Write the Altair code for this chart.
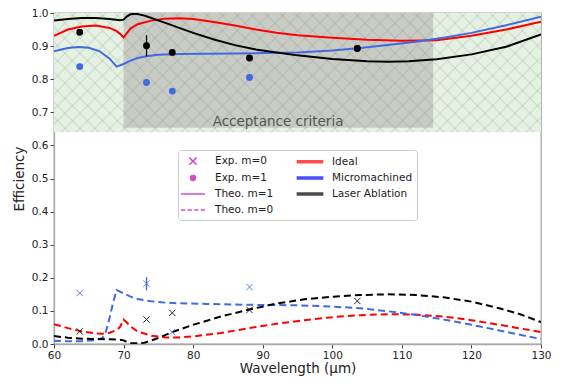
import altair as alt
import pandas as pd
import numpy as np

# ---------------- data ----------------
# Theoretical first order (m=1), solid lines
ideal_m1_x = [60, 62, 64, 66, 68, 69, 69.5, 70, 70.5, 71, 72, 74, 76, 78, 80, 83, 86, 89, 92, 95, 100, 105, 110, 115, 120, 125, 130]
ideal_m1_y = [0.931, 0.950, 0.959, 0.962, 0.955, 0.945, 0.937, 0.926, 0.940, 0.953, 0.966, 0.977, 0.983, 0.984, 0.982, 0.973, 0.962, 0.950, 0.940, 0.933, 0.925, 0.919, 0.916, 0.918, 0.931, 0.950, 0.974]

micro_m1_x = [60, 62, 63.5, 65, 66.5, 68, 69, 70, 71, 72, 73.5, 75, 78, 82, 86, 90, 95, 100, 104, 108, 112, 116, 120, 125, 130]
micro_m1_y = [0.884, 0.894, 0.897, 0.895, 0.885, 0.862, 0.838, 0.846, 0.856, 0.864, 0.870, 0.874, 0.876, 0.877, 0.878, 0.879, 0.881, 0.887, 0.894, 0.903, 0.913, 0.925, 0.940, 0.963, 0.989]

laser_m1_x = [60, 62, 64, 66, 68, 69.5, 70, 70.5, 71, 71.5, 72, 73, 74, 76, 78, 80, 83, 86, 89, 92, 95, 100, 105, 108, 111, 115, 120, 125, 130]
laser_m1_y = [0.977, 0.982, 0.985, 0.985, 0.982, 0.978, 0.980, 0.990, 0.996, 0.998, 0.997, 0.992, 0.985, 0.970, 0.955, 0.940, 0.920, 0.903, 0.890, 0.881, 0.872, 0.861, 0.854, 0.853, 0.854, 0.860, 0.875, 0.898, 0.935]

# Theoretical zeroth order (m=0), dashed lines
ideal_m0_x = [60, 62, 64, 66, 67, 68, 69, 69.5, 70, 70.5, 71, 72, 74, 76, 78, 80, 84, 88, 92, 96, 100, 104, 108, 112, 116, 120, 124, 127, 130]
ideal_m0_y = [0.060, 0.048, 0.038, 0.032, 0.031, 0.034, 0.042, 0.052, 0.074, 0.064, 0.053, 0.038, 0.025, 0.020, 0.020, 0.023, 0.033, 0.048, 0.061, 0.072, 0.081, 0.087, 0.090, 0.089, 0.083, 0.072, 0.058, 0.047, 0.036]

micro_m0_x = [60, 62, 64, 66, 67, 67.5, 68, 68.5, 69, 70, 71, 72, 74, 76, 78, 82, 86, 90, 95, 100, 104, 108, 112, 116, 120, 124, 127, 130]
micro_m0_y = [0.010, 0.008, 0.008, 0.012, 0.018, 0.040, 0.080, 0.125, 0.163, 0.153, 0.143, 0.136, 0.129, 0.125, 0.123, 0.121, 0.119, 0.118, 0.117, 0.113, 0.108, 0.099, 0.088, 0.074, 0.058, 0.041, 0.028, 0.015]

laser_m0_x = [60, 62, 64, 66, 68, 69.5, 70, 70.5, 71, 72, 73, 75, 77, 80, 84, 88, 92, 96, 100, 104, 108, 112, 116, 120, 124, 127, 130]
laser_m0_y = [0.024, 0.019, 0.016, 0.015, 0.014, 0.013, 0.011, 0.006, 0.003, 0.002, 0.004, 0.018, 0.036, 0.058, 0.083, 0.104, 0.122, 0.135, 0.143, 0.148, 0.150, 0.148, 0.141, 0.128, 0.108, 0.090, 0.066]

# Experimental points
exp_m1_micro_x = [63.7, 73.3, 77.0, 88.1, 103.6]
exp_m1_micro_y = [0.838, 0.790, 0.764, 0.805, 0.893]
exp_m1_micro_err = [0, 0.011, 0, 0, 0]
exp_m1_laser_x = [63.7, 73.3, 77.0, 88.1, 103.6]
exp_m1_laser_y = [0.942, 0.901, 0.881, 0.864, 0.893]
exp_m1_laser_err = [0, 0.032, 0, 0, 0]

exp_m0_micro_x = [63.7, 73.3, 77.0, 88.1]
exp_m0_micro_y = [0.154, 0.182, 0.036, 0.172]
exp_m0_micro_err = [0, 0.020, 0, 0]
exp_m0_laser_x = [63.7, 73.3, 77.0, 88.1, 103.6]
exp_m0_laser_y = [0.038, 0.074, 0.094, 0.103, 0.130]
exp_m0_laser_err = [0, 0, 0, 0, 0]

# Acceptance region
accept_x = [60, 130]
accept_y = [0.64, 1.0]
criteria_x = [70, 114.5]
criteria_y = [0.653, 1.0]
criteria_label = "Acceptance criteria"
criteria_label_pos = [92.2, 0.672]

devices = ["Ideal", "Micromachined", "Laser Ablation"]
device_colors = ["#ff0000", "#4169e1", "#000000"]

legend_labels = ["Exp. m=0", "Exp. m=1", "Theo. m=1", "Theo. m=0", "Ideal", "Micromachined", "Laser Ablation"]
legend_colors = ["#bf00bf", "#bf00bf", "#bf00bf", "#bf00bf", "#ff0000", "#0000ff", "#000000"]

X_TICKS = [60, 70, 80, 90, 100, 110, 120, 130]
Y_TICKS = [0.0, 0.1, 0.2, 0.3, 0.4, 0.5, 0.6, 0.7, 0.8, 0.9, 1.0]

# ---------------- geometry / style ----------------
W, H = 487, 331
FONT = "DejaVu Sans"
X_PATH = "M-1,-1L1,1M-1,1L1,-1"
LEG_X = "M-0.6,-0.6L0.6,0.6M-0.6,0.6L0.6,-0.6"
LEG_DOT = "M0.4,0A0.4,0.4,0,1,1,-0.4,0A0.4,0.4,0,1,1,0.4,0Z"
LEG_LINE = "M-2,0L2,0"
LEG_DASH = "M-2,0L-1.3,0M-0.9,0L-0.2,0M0.2,0L0.9,0M1.3,0L2,0"
LEG_THICK = "M-2.1,-0.17L2.1,-0.17L2.1,0.17L-2.1,0.17Z"
legend_shapes = [LEG_X, LEG_DOT, LEG_LINE, LEG_DASH, LEG_THICK, LEG_THICK, LEG_THICK]

# ---------------- tables ----------------
def curve(xs, ys, dev, order):
    return pd.DataFrame({"x": xs, "y": ys, "device": dev, "order": order})

lines = pd.concat([
    curve(ideal_m1_x, ideal_m1_y, "Ideal", "m1"),
    curve(micro_m1_x, micro_m1_y, "Micromachined", "m1"),
    curve(laser_m1_x, laser_m1_y, "Laser Ablation", "m1"),
    curve(ideal_m0_x, ideal_m0_y, "Ideal", "m0"),
    curve(micro_m0_x, micro_m0_y, "Micromachined", "m0"),
    curve(laser_m0_x, laser_m0_y, "Laser Ablation", "m0"),
], ignore_index=True)

def pts(xs, ys, errs, dev, order):
    ys = np.array(ys); errs = np.array(errs)
    return pd.DataFrame({"x": xs, "y": ys, "lo": ys - errs, "hi": ys + errs,
                         "err": errs, "device": dev, "order": order})

points = pd.concat([
    pts(exp_m1_micro_x, exp_m1_micro_y, exp_m1_micro_err, "Micromachined", "m1"),
    pts(exp_m1_laser_x, exp_m1_laser_y, exp_m1_laser_err, "Laser Ablation", "m1"),
    pts(exp_m0_micro_x, exp_m0_micro_y, exp_m0_micro_err, "Micromachined", "m0"),
    pts(exp_m0_laser_x, exp_m0_laser_y, exp_m0_laser_err, "Laser Ablation", "m0"),
], ignore_index=True)

regions = pd.DataFrame({
    "x": [accept_x[0], criteria_x[0]], "x2": [accept_x[1], criteria_x[1]],
    "y": [accept_y[0], criteria_y[0]], "y2": [accept_y[1], criteria_y[1]],
    "fill": ["#e5f2e3", "#c8ccc5"],
})

# hatch lines (decoration) over the acceptance region
xpp = (X_TICKS[-1] - X_TICKS[0]) / W
ypp = 1.0 / H
wpx = (accept_x[1] - accept_x[0]) / xpp
hpx = (accept_y[1] - accept_y[0]) / ypp
segs = []
for c in np.arange(-wpx, hpx, 15.0):
    xa, xb = max(0.0, -c), min(wpx, hpx - c)
    if xb > xa:
        segs.append((xa, xa + c, xb, xb + c))
for c in np.arange(0.0, wpx + hpx, 15.0):
    xa, xb = max(0.0, c - hpx), min(wpx, c)
    if xb > xa:
        segs.append((xa, c - xa, xb, c - xb))
hatch = pd.DataFrame([{
    "x": accept_x[0] + a * xpp, "y": accept_y[0] + b * ypp,
    "x2": accept_x[0] + c * xpp, "y2": accept_y[0] + d * ypp} for a, b, c, d in segs])

label_df = pd.DataFrame({"x": [criteria_label_pos[0]], "y": [criteria_label_pos[1]], "t": [criteria_label]})
legend_df = pd.DataFrame({"label": legend_labels})

# ---------------- encodings ----------------
xs = alt.Scale(domain=[X_TICKS[0], X_TICKS[-1]], nice=False, zero=False)
ys = alt.Scale(domain=[0, 1], nice=False)
X = alt.X("x:Q", scale=xs, title="Wavelength (µm)",
          axis=alt.Axis(values=X_TICKS, format="d", labelFlush=False, labelOverlap=False, titlePadding=1))
Y = alt.Y("y:Q", scale=ys, title="Efficiency",
          axis=alt.Axis(values=Y_TICKS, format=".1f", labelFlush=False, labelOverlap=False, titlePadding=5))
COL = alt.Color("device:N", scale=alt.Scale(domain=devices, range=device_colors), legend=None)

bg = alt.Chart(regions).mark_rect().encode(
    x=X, x2="x2:Q", y=Y, y2="y2:Q", fill=alt.Fill("fill:N", scale=None))

hatch_layer = alt.Chart(hatch).mark_rule(stroke="#5a6e5a", strokeOpacity=0.13, strokeWidth=1.4).encode(
    x=X, x2="x2:Q", y=Y, y2="y2:Q")

text_layer = alt.Chart(label_df).mark_text(font=FONT, fontSize=13.5, color="#555555",
                                            align="center", baseline="middle").encode(
    x=X, y=Y, text="t:N")

solid = alt.Chart(lines).transform_filter("datum.order == 'm1'").mark_line(
    strokeWidth=2, clip=True).encode(x=X, y=Y, color=COL, detail="device:N")
dashed = alt.Chart(lines).transform_filter("datum.order == 'm0'").mark_line(
    strokeWidth=2, strokeDash=[7, 4], clip=True).encode(x=X, y=Y, color=COL, detail="device:N")

errbars = alt.Chart(points).transform_filter("datum.err > 0").transform_calculate(
    y="datum.lo").mark_rule(strokeWidth=1.3).encode(x=X, y=Y, y2="hi:Q", color=COL)
dots = alt.Chart(points).transform_filter("datum.order == 'm1'").mark_circle(size=48, opacity=1).encode(
    x=X, y=Y, color=COL)
crosses = alt.Chart(points).transform_filter("datum.order == 'm0'").mark_point(
    shape=X_PATH, size=40, strokeWidth=1, filled=False, opacity=0.85).encode(x=X, y=Y, color=COL)

leg = alt.Legend(title=None, orient="none", legendX=124, legendY=137, columns=2,
                 columnPadding=20, rowPadding=3, symbolSize=144, symbolOffset=4, labelOffset=15,
                 padding=4, strokeColor="#cccccc", fillColor="white", cornerRadius=3,
                 labelFont=FONT, labelFontSize=10.5, labelColor="#222222",
                 symbolStrokeWidth=1.5, labelLimit=300)
legend_layer = alt.Chart(legend_df).mark_point(filled=True, strokeWidth=1.5, size=144).encode(
    x=X, y=Y,
    shape=alt.Shape("label:N", scale=alt.Scale(domain=legend_labels, range=legend_shapes), legend=leg),
    fill=alt.Fill("label:N", scale=alt.Scale(domain=legend_labels, range=legend_colors), legend=leg),
    stroke=alt.Stroke("label:N", scale=alt.Scale(domain=legend_labels, range=legend_colors), legend=leg),
)

chart = alt.layer(bg, hatch_layer, text_layer, solid, dashed, errbars, dots, crosses, legend_layer).properties(
    width=W, height=H,
    autosize=alt.AutoSizeParams(type="none"),
    padding={"left": 46, "top": 5, "right": 12, "bottom": 35},
).configure(font=FONT).configure_view(
    stroke="#a8a8a8", strokeWidth=1.3
).configure_axis(
    grid=False, domainColor="#a8a8a8", domainWidth=1.3, tickColor="#444444", tickSize=4,
    labelColor="#222222", labelFont=FONT, labelFontSize=10.5, labelPadding=2, labelOverlap=False,
    titleFont=FONT, titleFontSize=13.5, titleFontWeight="normal", titleColor="#222222",
)

chart.save("out.html", embed_options={"renderer": "svg", "actions": False})
